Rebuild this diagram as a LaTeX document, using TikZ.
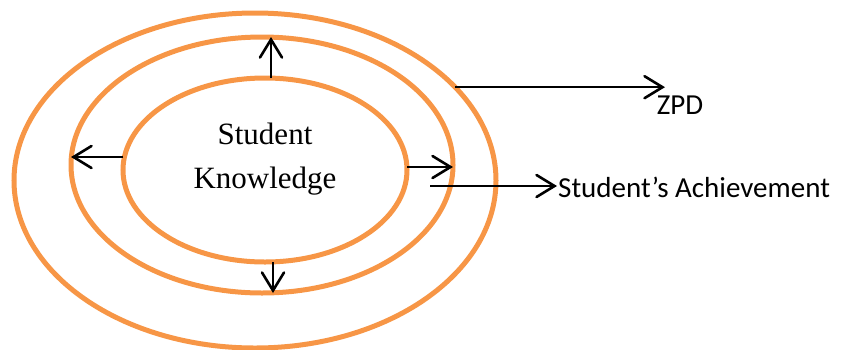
\documentclass[tikz,border=0pt]{standalone}
\usepackage{fontspec}
\setmainfont{Liberation Serif}
\newfontfamily\calibri{Carlito}
\usepackage{xcolor}
\usepackage{tikz}
\usetikzlibrary{shapes.geometric, arrows.meta}
\definecolor{ringorange}{HTML}{F79646}
\tikzset{
  ring/.style={
    ellipse,
    draw = ringorange,
    line width = 5pt,
    inner sep = 0pt,
    outer sep = 0pt
  }
}
\tikzset{
  barb/.style={
    line width = 2.6pt,
    -{Straight Barb[length=18pt, width=22pt, line cap=round]}
  }
}

\begin{document}
\begin{tikzpicture}[x=1pt, y=-1pt, every node/.style={font=\calibri\fontsize{29}{32}\selectfont}]
\newcommand\XRing{265}
\newcommand\YRing{170}
\useasboundingbox (0,0) rectangle (843,349);
\node[ring, minimum width=482pt, minimum height=335pt] (Outer) at (\XRing-10,\YRing+10.5) {};
\node[ring, minimum width=382pt, minimum height=256pt] (Middle) at (\XRing-3,\YRing-5) {};
\node[ring, minimum width=284pt, minimum height=184pt] (Inner) at (\XRing,\YRing) {};
\node[font=\fontsize{31}{44}\selectfont, align=center] (Know) at (\XRing,\YRing-11) {Student\\Knowledge};
\node (ZPD) at (680,105) {ZPD};
\node[anchor=west, inner sep=1pt] (Ach) at (557,187) {Student’s Achievement};
\coordinate (ZTip) at (665,86);
\coordinate (ATail) at (430,186);

\draw[barb] ([xshift=6pt]Inner.north) -- ([xshift=6pt]Inner.north |- Middle.north);
\draw[barb] ([xshift=8pt]Inner.south) -- ([xshift=8pt]Inner.south |- Middle.south);
\draw[barb] ([yshift=13pt]Inner.west) -- ([yshift=13pt]Inner.west -| Middle.west);
\draw[barb] ([yshift=3pt]Inner.east) -- ([yshift=3pt]Inner.east -| Middle.east);
\draw[barb] (Outer.25) -- (Outer.25 -| ZTip);
\draw[barb] (ATail) -- (ATail -| Ach.west);
\end{tikzpicture}
\end{document}
